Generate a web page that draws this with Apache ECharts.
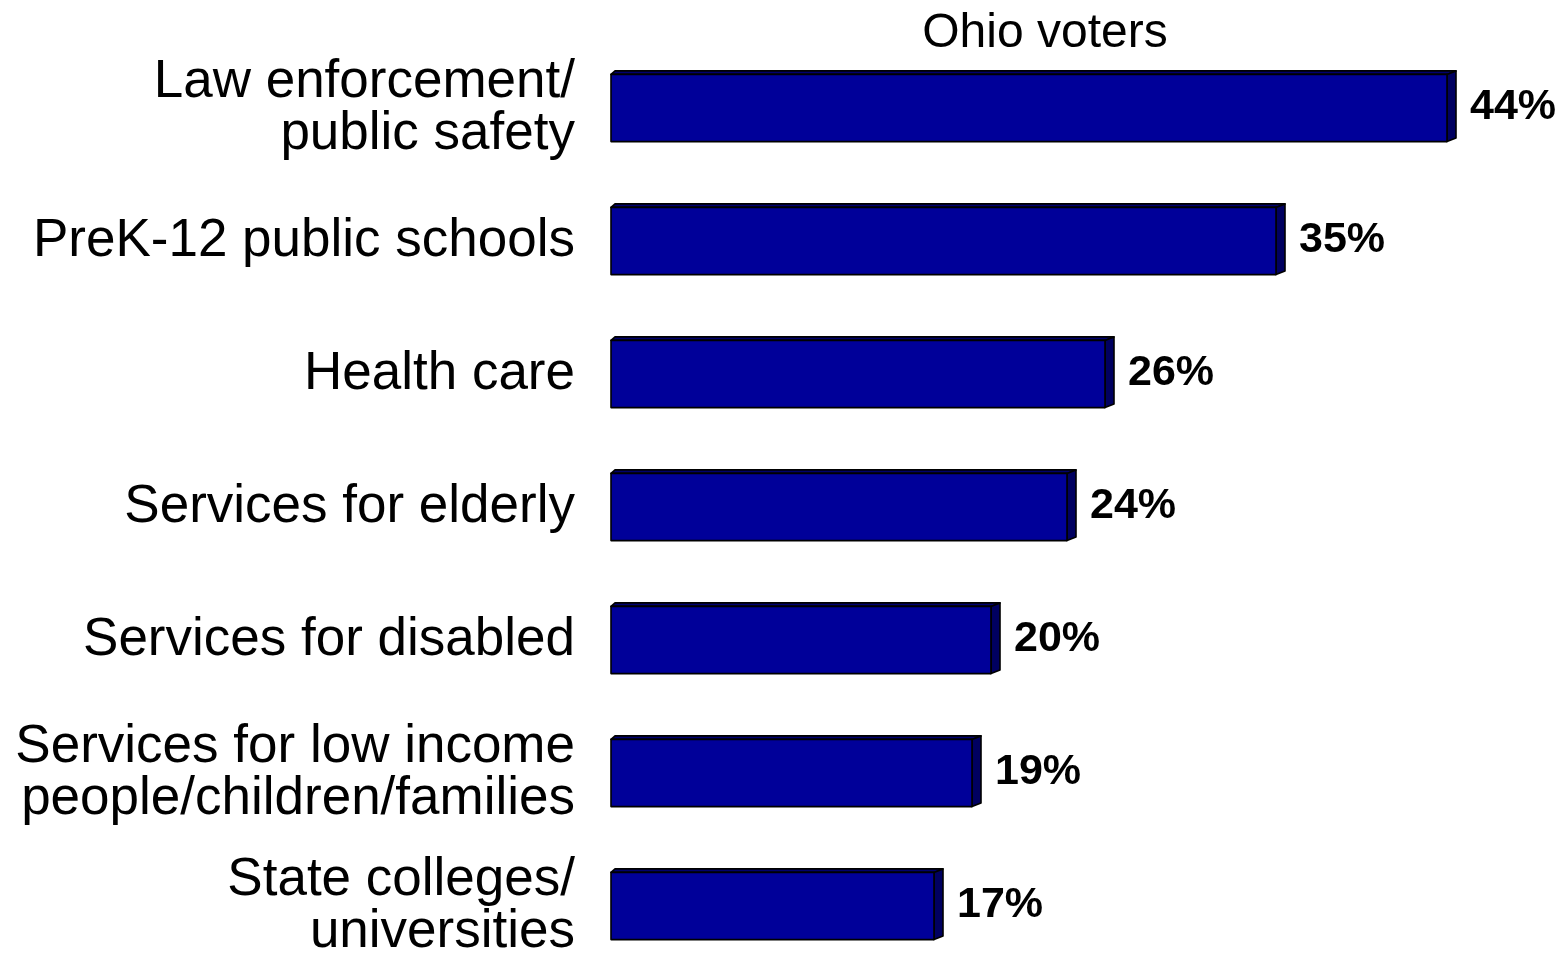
<!DOCTYPE html>
<html>
<head>
<meta charset="utf-8">
<script src="https://cdn.jsdelivr.net/npm/echarts@6/dist/echarts.min.js"></script>
<style>
html,body{margin:0;padding:0;background:#fff;}
#chart{width:1564px;height:960px;}
</style>
</head>
<body>
<div id="chart"></div>
<script>
const categories = [
  "Law enforcement/\npublic safety",
  "PreK-12 public schools",
  "Health care",
  "Services for elderly",
  "Services for disabled",
  "Services for low income\npeople/children/families",
  "State colleges/\nuniversities"
];
const values = [44, 35, 26, 24, 20, 19, 17];
const seriesName = "Ohio voters";

const FONT = "'Liberation Sans', Arial, sans-serif";
const chart = echarts.init(document.getElementById('chart'));

function renderItem(params, api) {
  const v = api.value(0);
  const idx = api.value(1);
  const p0 = api.coord([0, idx]);
  const p1 = api.coord([v, idx]);
  const band = api.size([0, 1])[1];
  const h = band * 0.505;
  const x0 = p0[0], x1 = p1[0], yc = p0[1];
  const yT = yc - h / 2, yB = yc + h / 2;
  const dx = 9, dy = 3.5, dxl = 4;
  const stroke = { stroke: '#000', lineWidth: 1.6, lineJoin: 'round' };
  return {
    type: 'group',
    children: [
      { type: 'polygon', shape: { points: [[x0, yT], [x0 + dxl, yT - dy], [x1 + dx, yT - dy], [x1, yT]] },
        style: Object.assign({ fill: '#00006e' }, stroke) },
      { type: 'polygon', shape: { points: [[x1, yT], [x1 + dx, yT - dy], [x1 + dx, yB - dy], [x1, yB]] },
        style: Object.assign({ fill: '#000060' }, stroke) },
      { type: 'rect', shape: { x: x0, y: yT, width: x1 - x0, height: h },
        style: Object.assign({ fill: '#000099' }, stroke) },
      { type: 'text', x: x1 + 23, y: yc - 1,
        style: { text: v + '%', fill: '#000', fontSize: 43, fontWeight: 'bold', fontFamily: FONT,
                 align: 'left', verticalAlign: 'middle' } }
    ]
  };
}

chart.setOption({
  backgroundColor: '#fff',
  animation: false,
  grid: { left: 611, width: 950, top: 41.5, height: 931, outerBoundsMode: 'none', containLabel: false },
  xAxis: { type: 'value', min: 0, max: 50, show: false },
  yAxis: {
    type: 'category', data: categories, inverse: true,
    axisLine: { show: false }, axisTick: { show: false }, splitLine: { show: false },
    axisLabel: { fontSize: 53, fontFamily: FONT, color: '#000', margin: 36, lineHeight: 52, align: 'right', padding: [4, 0, 0, 0] }
  },
  graphic: [{
    type: 'text', x: 1045, y: 34,
    style: { text: seriesName, fontSize: 48, fontFamily: FONT, fill: '#000', align: 'center', verticalAlign: 'middle' }
  }],
  series: [{
    type: 'custom', name: seriesName, renderItem: renderItem, clip: false,
    encode: { x: 0, y: 1 },
    data: values.map((v, i) => [v, i])
  }]
});
</script>
</body>
</html>
